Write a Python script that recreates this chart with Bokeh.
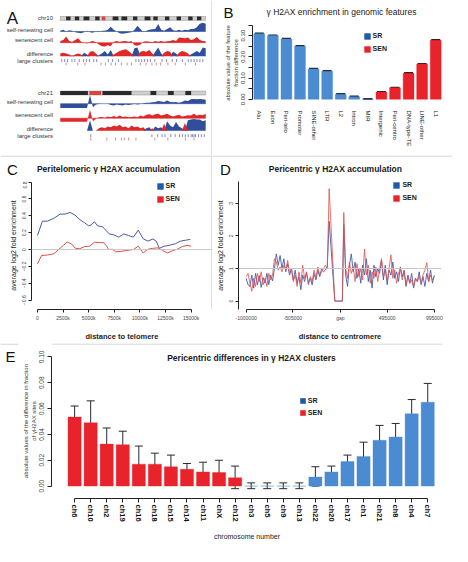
import numpy as np
from bokeh.plotting import figure
from bokeh.layouts import row, column
from bokeh.models import (Range1d, FactorRange, FixedTicker, Label, Legend, LegendItem,
                          Whisker, TeeHead, ColumnDataSource, Span, Title)
from bokeh.core.properties import value
from bokeh.embed import file_html
from bokeh.resources import INLINE

FONT = "Liberation Sans"
BAR_BLUE = "#4b8bd2"
BAR_RED = "#e8232b"
KEY_BLUE = "#1d5aa8"
KEY_RED = "#e8232b"
LINE_BLUE = "#4a5aa8"
LINE_RED = "#e0504a"
TRACK_BLUE = "#2f4f9c"
TRACK_RED = "#e02828"
SEP = "#cccccc"

# ---------------- Panel A data (genome browser tracks, 50 bins per chromosome) ----------------
chr10_sr = [0.10, 0.20, 0.00, 0.15, 0.10, -0.10,
            -0.15, -0.20, -0.10, 0.10, -0.10, -0.15, 0.05, -0.10,
            0.10, 0.10, 0.20, 0.55, 0.20, 0.00,
            -0.20, -0.25, -0.20, -0.15, -0.10, 0.20, 0.65, 0.30,
            -0.10, 0.10, 0.20, 0.25, 0.30, 0.85,
            0.20, 0.10, 0.30, 0.50, 0.15, 0.10, 0.20,
            0.10, 0.20, 0.15, 0.30, 0.30, 0.50,
            0.90, 1.00, 0.90]
chr10_sen = [0.20, 0.30, 0.70, 0.20, 0.10, 0.30,
             0.50, 0.10, 0.00, -0.10, 0.10, 0.20, 0.05, -0.20,
             -0.40, -0.45, -0.30, -0.40, 0.10, 0.20,
             0.10, 0.15, 0.20, 0.10, 0.20, -0.30, -0.35, -0.20,
             0.10, 0.15, 0.10, 0.05, 0.20, 0.10,
             0.20, 0.10, 0.15, 0.20, 0.30, 0.20, 0.60,
             0.55, 0.50, 0.60, 0.30, 0.40, 0.65,
             0.30, 0.20, 0.15]
chr10_diff = [-0.30, -0.40, -0.30, -0.20, 0.10, -0.20,
              -0.30, -0.20, 0.40, 0.20, -0.50, -0.60, -0.30, 0.10,
              0.30, 0.60, 0.20, 0.70, -0.20, -0.40,
              -0.60, -0.70, -0.80, -0.60, -0.30, 0.90, 1.00, -0.50,
              -0.60, -0.50, -0.70, -0.30, 0.50, 1.00,
              0.30, -0.40, -0.60, -0.50, 0.50, 0.30, -0.40,
              -0.60, -0.50, -0.30, 0.20, 0.40, 0.60,
              0.40, 1.00, 0.90]
chr10_sr_clusters = [0.01, 0.03, 0.05, 0.08, 0.10, 0.13, 0.16, 0.18, 0.20, 0.23, 0.25, 0.33, 0.36,
                     0.40, 0.52, 0.54, 0.56, 0.58, 0.60, 0.62, 0.65, 0.70, 0.73, 0.77, 0.80, 0.84,
                     0.88, 0.90, 0.92, 0.94, 0.96, 0.98]
chr10_sen_clusters = [0.04, 0.12, 0.17, 0.28, 0.31, 0.35, 0.38, 0.42, 0.46, 0.49, 0.55, 0.59, 0.63,
                      0.66, 0.69, 0.74, 0.79, 0.86, 0.93]
chr10_band_start = [0.04, 0.10, 0.16, 0.24, 0.36, 0.42, 0.50, 0.58, 0.64, 0.72, 0.80, 0.88, 0.94]
chr10_band_end = [0.07, 0.13, 0.20, 0.27, 0.40, 0.46, 0.53, 0.62, 0.67, 0.75, 0.83, 0.91, 0.97]
chr10_centro = [0.285, 0.31]

chr21_sr = [-0.50, -0.50, -0.50, -0.50, -0.50, -0.50, -0.50, -0.50, -0.50, -0.50,
            1.00, -0.40,
            -0.10, -0.05, 0.00, 0.00, 0.00,
            -0.15, -0.20, -0.10, -0.15, -0.20, -0.10, -0.15, -0.10, -0.05, -0.10, -0.05, 0.05,
            0.10, 0.10, 0.15, 0.20, 0.30, 0.25, 0.20, 0.35, 0.20, 0.15,
            0.20, 0.10, 0.20, 0.35, 0.30, 0.50, 0.55, 0.50, 0.55, 0.50, 0.45]
chr21_sen = [-0.40, -0.40, -0.40, -0.40, -0.40, -0.40, -0.40, -0.40, -0.40, -0.40,
             0.95, -0.35,
             -0.10, 0.10, 0.15, 0.05, 0.20,
             0.10, 0.25, 0.10, 0.30, 0.15, 0.20, 0.10, 0.15, 0.20, 0.10, 0.30, 0.20,
             0.40, 0.45, 0.30, 0.45, 0.50, 0.30, 0.40, 0.50, 0.30, 0.20,
             0.30, 0.40, 0.20, 0.25, 0.35, 0.30, 0.50, 0.30, 0.40, 0.35, 0.50]
chr21_diff = [0, 0, 0, 0, 0, 0, 0, 0, 0, 0,
              1.20, 0.00, 0.00, -0.30,
              -0.40, -0.30, -0.50, -0.40, -0.60, -0.50, -0.70, -0.40, -0.50, -0.30, -0.60, -0.40,
              -0.50, -0.30, -0.40,
              0.30, 0.40, -0.30, 0.50, 0.30, 0.40, -0.80, 1.10, 0.60, 0.40,
              1.00, 0.50, 0.30, -0.90, 1.20, 1.30, 1.35, 1.30, 1.30, 1.10, 1.20]
chr21_sr_clusters = [0.21, 0.63, 0.67, 0.70, 0.72, 0.76, 0.79, 0.82, 0.84, 0.86, 0.88, 0.90, 0.91,
                     0.92, 0.93, 0.95, 0.97, 0.99]
chr21_sen_clusters = [0.21, 0.32, 0.38, 0.42, 0.44, 0.47, 0.52, 0.65, 0.74, 0.86, 0.92]
chr21_band_start = [0.0, 0.29, 0.62, 0.74, 0.86]
chr21_band_end = [0.19, 0.49, 0.66, 0.78, 0.90]
chr21_centro = [0.20, 0.28]

track_labels = ["self-renewing cell", "senescent cell", "difference", "large clusters"]

# ---------------- Panel B data ----------------
feature_names = ["Alu", "Exon", "Peri-telo", "Promoter", "SINE-other", "LTR", "L2", "Intron", "MIR",
                 "Intergenic", "Peri-centro", "DNA-type-TE", "LINE-other", "L1"]
feature_diff = [0.309, 0.300, 0.284, 0.250, 0.143, 0.132, 0.024, 0.012, 0.001,
                0.034, 0.054, 0.123, 0.166, 0.278]
feature_err = [0.002, 0.002, 0.002, 0.002, 0.002, 0.002, 0.002, 0.002, 0.001,
               0.002, 0.002, 0.002, 0.002, 0.002]
feature_group = ["SR"] * 9 + ["SEN"] * 5
feature_ticks = [0.0, 0.05, 0.1, 0.15, 0.2, 0.25, 0.3, 0.35]
feature_tick_labels = ["0.00", "", "0.10", "", "0.20", "", "0.30", ""]

# ---------------- Panel C data ----------------
telo_sr_kb = [0, 480, 960, 1600, 2220, 2700, 3180, 3650, 4130, 4600, 5000, 5240, 5560, 5870, 6350,
              6670, 7000, 7460, 7940, 8420, 8890, 9370, 9840, 10320, 10790, 11270, 11590, 11900,
              12380, 12860, 13490, 13970, 14440, 14920]
telo_sr = [0.166, 0.336, 0.336, 0.37, 0.42, 0.42, 0.44, 0.41, 0.355, 0.317, 0.28, 0.29, 0.33, 0.28,
           0.27, 0.23, 0.185, 0.174, 0.147, 0.185, 0.166, 0.147, 0.23, 0.128, 0.10, 0.125, 0.10,
           0.015, 0.04, 0.05, 0.07, 0.10, 0.11, 0.12]
telo_sen_kb = [0, 400, 960, 1600, 2060, 2540, 2920, 3330, 3700, 4130, 4600, 5080, 5560, 6030, 6510,
               6980, 7300, 7620, 8100, 8730, 9370, 9840, 10320, 10790, 11270, 11750, 12220, 12700,
               13170, 13650, 14130, 14600, 15000]
telo_sen = [-0.17, -0.07, -0.065, -0.05, 0.0, 0.05, 0.09, 0.065, 0.015, 0.01, 0.035, 0.04, 0.087,
            0.083, 0.08, 0.0, 0.004, -0.026, -0.023, -0.01, 0.0, 0.04, -0.04, 0.004, 0.015, 0.02,
            -0.01, -0.04, -0.015, 0.004, 0.035, 0.05, 0.04]
telo_ticks = [0, 2500, 5000, 7500, 10000, 12500, 15000]
telo_tick_labels = ["0", "2500k", "5000k", "7500k", "10000k", "12500k", "15000k"]
telo_yticks = [-0.6, -0.4, -0.2, 0.0, 0.2, 0.4, 0.6, 0.8]

# ---------------- Panel D data ----------------
peri_left_kb = list(range(-1000, -119, 20))
peri_gap_kb = [-60, 20]
peri_right_kb = list(range(35, 996, 20))
peri_sr_left = [0.70, 0.50, 0.45, 0.80, 0.40, 0.85, 0.50, 0.78, 0.42, 0.72,
                0.55, 0.85, 0.50, 0.80, 0.62, 1.00, 1.45, 1.10, 1.40, 1.00,
                1.30, 0.90, 1.15, 0.80, 1.00, 0.65, 0.95, 0.55, 0.75, 0.35,
                0.80, 0.60, 0.90, 0.55, 0.70, 0.50, 0.85, 0.65, 0.95, 0.75,
                1.00, 0.90, 0.95, 1.05, 2.45]
peri_sen_left = [0.75, 0.85, 0.55, 0.30, 0.70, 0.45, 0.85, 0.60, 0.90, 0.50,
                 0.70, 0.45, 0.85, 0.65, 0.80, 1.30, 1.20, 0.95, 1.05, 0.90,
                 1.10, 0.95, 1.25, 0.85, 1.00, 0.60, 0.80, 0.45, 0.90, 0.55,
                 1.10, 0.70, 0.85, 0.50, 0.75, 0.60, 0.95, 0.70, 1.05, 0.80,
                 0.90, 1.00, 1.10, 1.00, 3.45]
peri_gap = [0.0, 0.0]
peri_sr_right = [2.35, 0.80, 0.45, 1.10, 1.45, 0.90, 1.20, 0.70, 1.00, 0.55,
                 1.10, 0.80, 1.30, 0.60, 0.95, 0.40, 1.10, 0.75, 1.00, 0.85,
                 1.25, 0.65, 1.10, 0.50, 0.95, 0.80, 1.20, 0.70, 0.90, 0.60,
                 1.05, 0.75, 0.95, 0.45, 0.80, 0.55, 0.85, 0.40, 0.70, 0.60,
                 0.90, 0.50, 0.75, 0.45, 0.85, 0.60, 0.95, 0.55, 0.80]
peri_sen_right = [2.72, 1.00, 0.70, 1.20, 0.85, 1.05, 0.60, 1.15, 0.75, 1.00,
                  0.65, 1.60, 0.80, 1.10, 0.55, 0.90, 0.70, 1.05, 0.60, 1.00,
                  1.30, 0.75, 0.95, 0.60, 1.00, 1.42, 0.70, 0.95, 0.55, 0.85,
                  1.00, 0.65, 0.90, 0.50, 0.75, 0.55, 0.65, 0.45, 0.70, 0.60,
                  0.75, 0.55, 0.80, 0.95, 1.18, 0.60, 0.80, 0.65, 0.75]
peri_ticks = [-1000, -505, 0, 495, 995]
peri_tick_labels = ["-1000000", "-505000", "gap", "495000", "995000"]
peri_yticks = [0, 1, 2, 3]

# ---------------- Panel E data ----------------
chrom_names = ["ch6", "ch10", "ch2", "ch19", "ch16", "ch18", "ch15", "ch14", "ch11", "chX", "ch12",
               "ch3", "ch5", "ch9", "ch13", "ch22", "ch20", "ch17", "ch1", "ch21", "ch8", "ch4", "ch7"]
chrom_diff = [0.0535, 0.049, 0.0325, 0.032, 0.017, 0.017, 0.015, 0.013, 0.011, 0.0105, 0.0065,
              0.0, 0.0, 0.0, 0.0, 0.007, 0.011, 0.019, 0.023, 0.0355, 0.038, 0.056, 0.065]
chrom_hi = [0.062, 0.066, 0.045, 0.0425, 0.031, 0.0255, 0.024, 0.0175, 0.0185, 0.020, 0.0155,
            0.0025, 0.0025, 0.0025, 0.0025, 0.015, 0.0155, 0.024, 0.034, 0.047, 0.0485, 0.067, 0.0795]
chrom_lo = [0.045, 0.032, 0.021, 0.022, 0.003, 0.008, 0.0065, 0.009, 0.0035, 0.0013, -0.002,
            -0.002, -0.002, -0.002, -0.002, 0.0, 0.0075, 0.0145, 0.0125, 0.0245, 0.0275, 0.0455, 0.051]
chrom_group = ["SEN"] * 11 + ["none"] * 4 + ["SR"] * 8
chrom_yticks = [0.0, 0.02, 0.04, 0.06, 0.08, 0.1]
chrom_ytick_labels = ["0.00", "0.02", "0.04", "0.06", "0.08", "0.10"]

GROUP_COLOR = {"SR": BAR_BLUE, "SEN": BAR_RED, "none": BAR_BLUE}


# ---------------- helpers ----------------
def new_fig(w, h, xr, yr, left, right, top, bottom, **kw):
    p = figure(width=w, height=h, x_range=xr, y_range=yr, output_backend="svg",
               toolbar_location=None, min_border_left=left, min_border_right=right,
               min_border_top=top, min_border_bottom=bottom, **kw)
    p.grid.visible = False
    p.outline_line_color = None
    return p


def canvas_fig(w, h):
    """A figure whose frame is the whole canvas, in pixel-like data units (y downwards)."""
    p = figure(width=w, height=h, x_range=Range1d(0, w), y_range=Range1d(h, 0),
               output_backend="svg", toolbar_location=None, min_border=0,
               min_border_left=0, min_border_right=0, min_border_top=0, min_border_bottom=0,
               x_axis_type=None, y_axis_type=None)
    p.grid.visible = False
    p.outline_line_color = None
    return p


def style_axis(ax, size="5px", color="#444", tick_out=3):
    ax.axis_line_color = "#222"
    ax.axis_line_width = 1
    ax.major_tick_line_color = "#222"
    ax.minor_tick_line_color = None
    ax.major_tick_out = tick_out
    ax.major_tick_in = 0
    ax.major_label_text_font = FONT
    ax.major_label_text_font_size = size
    ax.major_label_text_color = color
    ax.major_label_standoff = 2
    ax.axis_label_text_font = FONT
    ax.axis_label_text_font_style = "normal"
    ax.axis_label_text_color = "#222"


def put_text(p, x, y, text, size, bold=False, align="center", baseline="middle", color="#1a1a1a"):
    p.text(x=[x], y=[y], text=[text], text_font=value(FONT), text_font_size=size,
           text_font_style="bold" if bold else "normal", text_align=align,
           text_baseline=baseline, text_color=color)


def side_title(p, text, size="6px"):
    p.add_layout(Title(text=text, align="center", standoff=0, text_font=FONT,
                       text_font_size=size, text_font_style="normal", text_color="#333"), "left")


def add_key(p, x0, y0, vx, vy, glyph=8, spacing=5, size="7px"):
    # zero-size proxies: they only lend their colours to the legend squares
    r1 = p.rect(x=[x0], y=[y0], width=0, height=0, fill_color=KEY_BLUE, line_color=None)
    r2 = p.rect(x=[x0], y=[y0], width=0, height=0, fill_color=KEY_RED, line_color=None)
    leg = Legend(items=[LegendItem(label="SR", renderers=[r1]),
                        LegendItem(label="SEN", renderers=[r2])],
                 location=(vx, vy), border_line_color=None, background_fill_alpha=0,
                 glyph_width=glyph, glyph_height=glyph, label_height=glyph, spacing=spacing,
                 padding=0, margin=0, label_standoff=2, label_text_font=FONT,
                 label_text_font_size=size, label_text_font_style="bold",
                 label_text_color="#1a1a1a")
    p.add_layout(leg)


# ---------------- Panel A ----------------
pA = figure(width=212, height=155, x_range=Range1d(0, 218), y_range=Range1d(160, 0),
            output_backend="svg", toolbar_location=None, min_border=0,
            x_axis_type=None, y_axis_type=None)
pA.grid.visible = False
pA.outline_line_color = None
pA.add_layout(Span(location=217.4, dimension="height", line_color=SEP, line_width=1))

TX0, TX1 = 61.5, 211.0


def to_x(frac):
    return TX0 + np.asarray(frac, dtype=float) * (TX1 - TX0)


def draw_chrom(p, name, top, sr, sen, diff, sr_cl, sen_cl, bstart, bend, centro, sr_base, sen_base,
               diff_base, cl_top, scale=9.0):
    n = len(sr)
    tx = to_x(np.linspace(0, 1, n))
    p.quad(left=[TX0], right=[TX1], top=[top], bottom=[top + 4], fill_color="#cfcfcf",
           line_color="#8a8a8a", line_width=0.5)
    p.quad(left=to_x(bstart), right=to_x(bend), top=top, bottom=top + 4, fill_color="#2a2a2a",
           line_color=None)
    p.quad(left=[to_x(centro[0])], right=[to_x(centro[1])], top=[top], bottom=[top + 4],
           fill_color="#e04040", line_color=None)
    v = np.asarray(sr)
    p.varea(x=tx, y1=np.full(n, sr_base), y2=sr_base - v * scale, fill_color=TRACK_BLUE)
    p.line(x=tx, y=np.full(n, sr_base), line_color=TRACK_BLUE, line_width=0.6)
    v = np.asarray(sen)
    p.varea(x=tx, y1=np.full(n, sen_base), y2=sen_base - v * scale, fill_color=TRACK_RED)
    p.line(x=tx, y=np.full(n, sen_base), line_color=TRACK_RED, line_width=0.6)
    v = np.asarray(diff)
    p.varea(x=tx, y1=np.full(n, diff_base), y2=diff_base - np.clip(v, 0, None) * scale,
            fill_color=TRACK_BLUE)
    p.varea(x=tx, y1=np.full(n, diff_base), y2=diff_base - np.clip(-v, 0, None) * scale,
            fill_color=TRACK_RED)
    xs = to_x(sr_cl)
    p.segment(x0=xs, x1=xs, y0=cl_top, y1=cl_top + 3, line_color="#5a6fb5", line_width=0.8)
    xs = to_x(sen_cl)
    p.segment(x0=xs, x1=xs, y0=cl_top + 3.5, y1=cl_top + 6.5, line_color="#e06a6a", line_width=0.8)
    lab_y = [top + 2, sr_base - 2, sen_base - 3, diff_base - 2, cl_top + 2]
    lab_t = [name] + track_labels
    p.text(x=[54] * 5, y=lab_y, text=lab_t, text_font=value(FONT), text_font_size="6px",
           text_align="right", text_baseline="middle", text_color="#333333")


draw_chrom(pA, "chr10", 16.5, chr10_sr, chr10_sen, chr10_diff, chr10_sr_clusters,
           chr10_sen_clusters, chr10_band_start, chr10_band_end, chr10_centro,
           32.0, 43.5, 57.5, 60.5)
draw_chrom(pA, "chr21", 93.5, chr21_sr, chr21_sen, chr21_diff, chr21_sr_clusters,
           chr21_sen_clusters, chr21_band_start, chr21_band_end, chr21_centro,
           106.5, 121.5, 134.5, 138.0)
put_text(pA, 6.5, 18.3, "A", "17px", align="left", baseline="alphabetic", color="#111")

# ---------------- Panel B ----------------
hdrB = canvas_fig(240, 24)
put_text(hdrB, 129, 11, "\u03b3 H2AX enrichment in genomic features", "8.5px")
put_text(hdrB, 11, 3.0, "B", "15px", align="left", baseline="top", color="#111")

B_L, B_R = 40, 10
pB = new_fig(240, 131, FactorRange(*feature_names, range_padding=0), Range1d(-0.0104, 0.3524),
             B_L, B_R, 0, 54)
srcB = ColumnDataSource(dict(name=feature_names, val=feature_diff,
                             hi=[v + e for v, e in zip(feature_diff, feature_err)],
                             lo=[v - e for v, e in zip(feature_diff, feature_err)],
                             color=[GROUP_COLOR[g] for g in feature_group]))
pB.vbar(x="name", top="val", bottom=0, width=0.8, fill_color="color", line_color="color",
        line_alpha=0.4, source=srcB)
pB.add_layout(Whisker(base="name", upper="hi", lower="lo", source=srcB, line_color="#222",
                      line_width=1.5,
                      upper_head=TeeHead(size=9, line_color="#222", line_width=1.5),
                      lower_head=TeeHead(size=9, line_color="#222", line_width=1.5)))
style_axis(pB.yaxis[0], size="6px", color="#333", tick_out=4)
pB.yaxis[0].ticker = FixedTicker(ticks=feature_ticks)
pB.yaxis[0].major_label_overrides = {t: l for t, l in zip(feature_ticks, feature_tick_labels)}
pB.yaxis[0].major_label_orientation = "vertical"
pB.yaxis[0].bounds = (0, 0.35)
pB.yaxis[0].major_label_standoff = 3
side_title(pB, "fraction difference")
side_title(pB, "absolute value of the feature")
xb = pB.xaxis[0]
xb.axis_line_color = None
xb.major_tick_line_color = None
xb.minor_tick_line_color = None
xb.major_label_text_font = FONT
xb.major_label_text_font_size = "6px"
xb.major_label_text_color = "#222"
xb.major_label_orientation = "vertical"
xb.major_label_standoff = 3
add_key(pB, feature_names[0], 0, 110.6, 48.5)

# ---------------- Panel C ----------------
hdrC = canvas_fig(212, 26)
hdrC.add_layout(Span(location=0.6, dimension="width", line_color=SEP, line_width=1))
hdrC.add_layout(Span(location=211.4, dimension="height", line_color=SEP, line_width=1))
put_text(hdrC, 108, 13, "Peritelomeric \u03b3 H2AX accumulation", "8.5px", bold=True)
put_text(hdrC, 6.5, 5.0, "C", "15px", align="left", baseline="top", color="#111")

C_L = 31
C_XR = Range1d(-582, 17090)
pC = new_fig(212, 162, C_XR, Range1d(-0.710, 0.806), C_L, 0, 0, 31)
pC.add_layout(Span(location=0, dimension="width", line_color="#c8c8c8", line_width=1))
pC.add_layout(Span(location=C_XR.end - 60, dimension="height", line_color=SEP, line_width=1))
pC.line(telo_sr_kb, telo_sr, line_color=LINE_BLUE, line_width=1)
pC.line(telo_sen_kb, telo_sen, line_color=LINE_RED, line_width=1)
style_axis(pC.xaxis[0])
pC.xaxis[0].ticker = FixedTicker(ticks=telo_ticks)
pC.xaxis[0].major_label_overrides = {t: l for t, l in zip(telo_ticks, telo_tick_labels)}
pC.xaxis[0].bounds = (0, 15000)
pC.xaxis[0].axis_label = "distance to telomere"
pC.xaxis[0].axis_label_text_font_size = "7.5px"
pC.xaxis[0].axis_label_text_font_style = "bold"
pC.xaxis[0].axis_label_standoff = 8
style_axis(pC.yaxis[0])
pC.yaxis[0].ticker = FixedTicker(ticks=telo_yticks)
pC.yaxis[0].major_label_orientation = "vertical"
pC.yaxis[0].bounds = (-0.6, 0.8)
pC.yaxis[0].axis_label = "average log2 fold enrichment"
pC.yaxis[0].axis_label_text_font_size = "7px"
pC.yaxis[0].axis_label_standoff = 3
add_key(pC, telo_sr_kb[0], telo_sr[0], 124.5, 106.4)

# ---------------- Panel D ----------------
hdrD = canvas_fig(240, 26)
hdrD.add_layout(Span(location=0.6, dimension="width", line_color=SEP, line_width=1))
put_text(hdrD, 122.9, 13, "Pericentric \u03b3 H2AX accumulation", "8.5px", bold=True)
put_text(hdrD, 7.5, 5.0, "D", "15px", align="left", baseline="top", color="#111")

D_L = 26
pD = new_fig(240, 162, Range1d(-1081, 1071), Range1d(-0.258, 3.672), D_L, 11, 0, 31)
pD.add_layout(Span(location=1, dimension="width", line_color="#c8c8c8", line_width=1))
peri_kb = peri_left_kb + peri_gap_kb + peri_right_kb
pD.line(peri_kb, peri_sr_left + peri_gap + peri_sr_right, line_color=LINE_BLUE, line_width=0.9)
pD.line(peri_kb, peri_sen_left + peri_gap + peri_sen_right, line_color=LINE_RED, line_width=0.9,
        line_alpha=0.9)
style_axis(pD.xaxis[0])
pD.xaxis[0].ticker = FixedTicker(ticks=peri_ticks)
pD.xaxis[0].major_label_overrides = {t: l for t, l in zip(peri_ticks, peri_tick_labels)}
pD.xaxis[0].bounds = (-1000, 995)
pD.xaxis[0].axis_label = "distance to centromere"
pD.xaxis[0].axis_label_text_font_size = "7.5px"
pD.xaxis[0].axis_label_text_font_style = "bold"
pD.xaxis[0].axis_label_standoff = 8
style_axis(pD.yaxis[0])
pD.yaxis[0].ticker = FixedTicker(ticks=peri_yticks)
pD.yaxis[0].major_label_orientation = "vertical"
pD.yaxis[0].axis_label = "average log2 fold enrichment"
pD.yaxis[0].axis_label_text_font_size = "7px"
pD.yaxis[0].axis_label_standoff = 3
add_key(pD, peri_kb[0], peri_sr_left[0], 154.4, 107.1)

# ---------------- Panel E ----------------
letE = canvas_fig(18, 203)
letE.add_layout(Span(location=0.6, dimension="width", line_color=SEP, line_width=1))
put_text(letE, 5.0, 4.0, "E", "15px", align="left", baseline="top", color="#111")

E_L = 33
pE = new_fig(434, 203, Range1d(-1.44, 22.92), Range1d(-0.0096, 0.1104), E_L, 10, 0, 48)
pE.add_layout(Span(location=0.1100, dimension="width", line_color=SEP, line_width=1))
idx = list(range(len(chrom_names)))
srcE = ColumnDataSource(dict(i=idx, val=chrom_diff, hi=chrom_hi, lo=chrom_lo,
                             color=[GROUP_COLOR[g] for g in chrom_group]))
pE.vbar(x="i", top="val", bottom=0, width=0.82, fill_color="color", line_color="color",
        line_alpha=0.35, source=srcE)
pE.add_layout(Whisker(base="i", upper="hi", lower="lo", source=srcE, line_color="#2a2a2a",
                      line_width=1,
                      upper_head=TeeHead(size=8, line_color="#2a2a2a", line_width=1),
                      lower_head=TeeHead(size=8, line_color="#2a2a2a", line_width=1)))
style_axis(pE.yaxis[0], size="6.5px", color="#444", tick_out=4)
pE.yaxis[0].ticker = FixedTicker(ticks=chrom_yticks)
pE.yaxis[0].major_label_overrides = {t: l for t, l in zip(chrom_yticks, chrom_ytick_labels)}
pE.yaxis[0].major_label_orientation = "vertical"
pE.yaxis[0].bounds = (0, 0.1)
pE.yaxis[0].major_label_standoff = 3
side_title(pE, "of \u03b3H2AX sites")
side_title(pE, "absolute values of the difference in fraction")
style_axis(pE.xaxis[0], size="7.5px", color="#111", tick_out=4)
pE.xaxis[0].ticker = FixedTicker(ticks=idx)
pE.xaxis[0].major_label_overrides = {i: n for i, n in zip(idx, chrom_names)}
pE.xaxis[0].major_label_orientation = "vertical"
pE.xaxis[0].major_label_text_font_style = "bold"
pE.xaxis[0].bounds = (0, len(chrom_names) - 1)
pE.xaxis[0].axis_label = "chromosome number"
pE.xaxis[0].axis_label_text_font_size = "7px"
pE.xaxis[0].axis_label_standoff = 8
add_key(pE, 0, 0, 247.8, 82.4, glyph=7, spacing=5)
pE.add_layout(Label(x=200, y=140.6, x_units="screen", y_units="screen",
                    text="Pericentric differences in \u03b3 H2AX clusters", text_font=FONT,
                    text_font_size="8.5px", text_font_style="bold", text_align="center",
                    text_baseline="middle", text_color="#1a1a1a"))

panelB = column(row(hdrB), row(pB))
panelC = column(row(hdrC), row(pC))
panelD = column(row(hdrD), row(pD))
row1 = row(column(pA), panelB)
row2 = row(panelC, panelD)
row3 = row(column(letE), column(pE))
layout = column(row1, row2, row3)
open("out.html", "w").write(file_html(layout, INLINE))
